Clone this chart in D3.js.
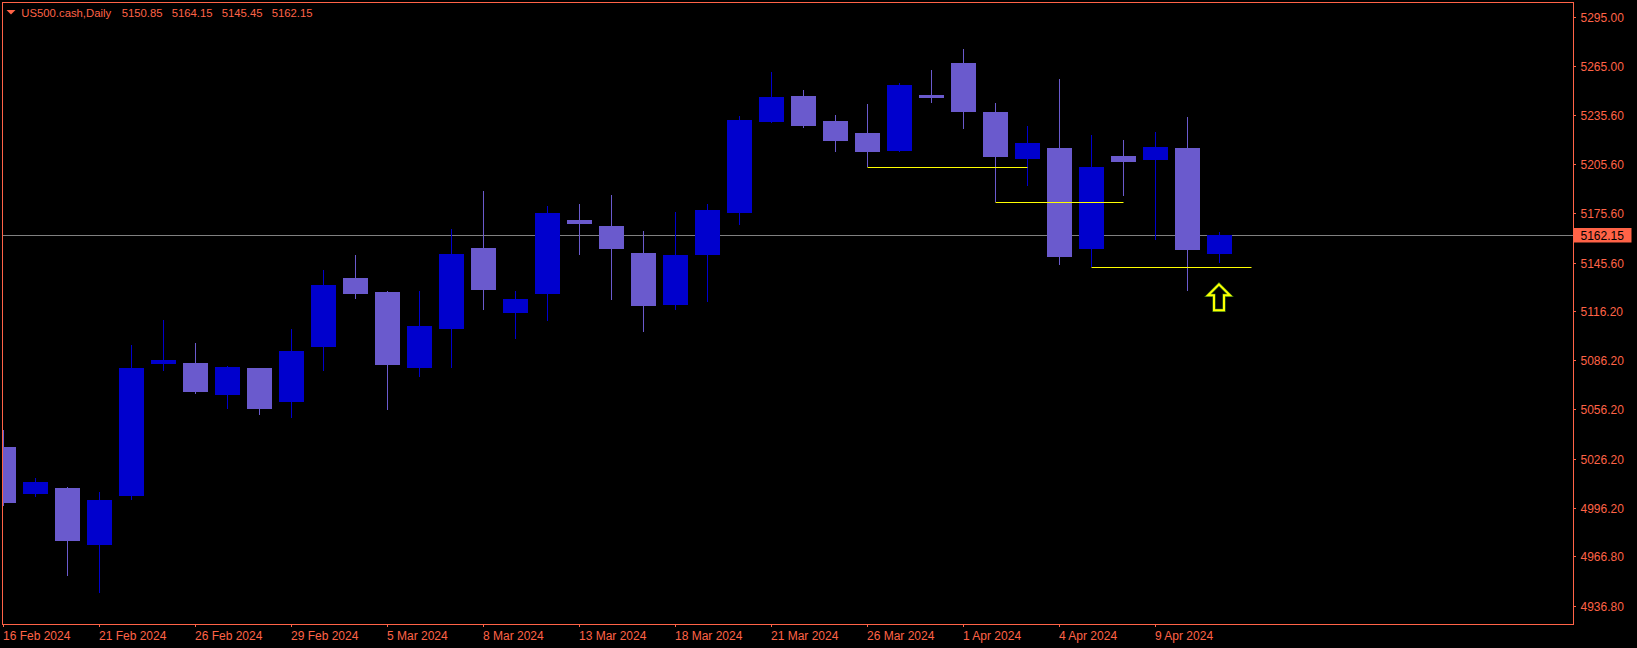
<!DOCTYPE html>
<html><head><meta charset="utf-8">
<script src="https://cdn.jsdelivr.net/npm/d3@7"></script>
<style>html,body{margin:0;padding:0;background:#000;overflow:hidden}</style>
</head><body><svg id="c" width="1637" height="648"></svg>
<script>
// ---------------- DATA ----------------
const symbol = "US500.cash,Daily";
const headerValues = ["5150.85", "5164.15", "5145.45", "5162.15"];
const dates = ["16 Feb 2024","19 Feb 2024","20 Feb 2024","21 Feb 2024","22 Feb 2024","23 Feb 2024",
  "26 Feb 2024","27 Feb 2024","28 Feb 2024","29 Feb 2024","1 Mar 2024","4 Mar 2024","5 Mar 2024",
  "6 Mar 2024","7 Mar 2024","8 Mar 2024","11 Mar 2024","12 Mar 2024","13 Mar 2024","14 Mar 2024",
  "15 Mar 2024","18 Mar 2024","19 Mar 2024","20 Mar 2024","21 Mar 2024","22 Mar 2024","25 Mar 2024",
  "26 Mar 2024","27 Mar 2024","28 Mar 2024","1 Apr 2024","2 Apr 2024","3 Apr 2024","4 Apr 2024",
  "5 Apr 2024","8 Apr 2024","9 Apr 2024","10 Apr 2024","11 Apr 2024"];
const opens  = [5033.3,5004.9,5008.3,4973.6,5003.7,5083.8,5084.4,5064.9,5081.4,5060.7,5094.2,5136.2,5127.6,
  5081.4,5105.1,5154.4,5114.8,5126.4,5171.5,5167.8,5151.4,5119.7,5150.2,5175.7,5231.1,5246.9,5231.7,
  5224.4,5213.5,5247.5,5267.0,5237.2,5208.6,5215.3,5153.8,5210.4,5208.0,5215.3,5150.85];
const highs  = [5043.6,5014.4,5008.9,5005.9,5095.4,5110.6,5096.6,5082.6,5081.6,5105.1,5141.0,5150.2,5128.2,
  5128.2,5166.0,5189.1,5128.2,5180.0,5181.2,5186.7,5164.8,5176.3,5181.2,5234.8,5261.5,5250.5,5235.4,
  5242.0,5254.8,5262.7,5275.5,5242.6,5228.7,5257.3,5223.2,5220.1,5225.0,5234.2,5164.15];
const lows   = [4997.6,5002.9,4954.8,4944.6,5001.2,5079.6,5065.6,5056.4,5052.8,5050.9,5079.6,5123.4,5055.8,
  5075.9,5081.4,5116.7,5099.0,5110.0,5150.2,5122.8,5103.3,5116.7,5121.6,5168.4,5230.6,5227.5,5212.9,
  5204.0,5212.9,5242.6,5226.8,5182.6,5192.2,5144.1,5142.8,5186.1,5159.3,5128.2,5145.45];
const closes = [4999.2,5012.0,4976.1,5001.0,5081.4,5086.2,5066.8,5082.0,5056.4,5091.7,5131.9,5126.4,5083.2,
  5106.9,5150.8,5128.9,5123.4,5175.7,5169.0,5153.8,5119.1,5150.2,5177.5,5232.3,5246.3,5228.7,5219.5,
  5212.9,5253.6,5245.6,5237.2,5209.8,5218.3,5148.9,5203.7,5206.8,5215.9,5153.2,5162.15];
const yTickValues = [5295.00,5265.00,5235.60,5205.60,5175.60,5145.60,5116.20,5086.20,5056.20,5026.20,4996.20,4966.80,4936.80];
const xTickLabels = ["16 Feb 2024","21 Feb 2024","26 Feb 2024","29 Feb 2024","5 Mar 2024","8 Mar 2024",
  "13 Mar 2024","18 Mar 2024","21 Mar 2024","26 Mar 2024","1 Apr 2024","4 Apr 2024","9 Apr 2024"];
const bidPrice = 5162.15;
const levelStarts = ["26 Mar 2024","2 Apr 2024","5 Apr 2024"];
const levelBars   = [5, 4, 5];
const levelPrices = [5204.0, 5182.6, 5142.8];
const arrowDate = "11 Apr 2024";
const arrowPrice = 5132.3;

(function () {
// ---------------- LAYOUT ----------------
const W = 1637, H = 648;
const pLeft = 2.5, pTop = 2.5, pRight = 1573.5, pBottom = 624.5;
const axisColor = "#FF6347";
const bullColor = "#0000CD", bearColor = "#6A5ACD";
const font = "'Liberation Sans', Arial, sans-serif";

const svg = d3.select("#c");
svg.append("rect").attr("width", W).attr("height", H).attr("fill", "#000");

const x = d3.scaleLinear().domain([0, dates.length - 1]).range([3.5, 3.5 + 32 * (dates.length - 1)]);
const y = d3.scaleLinear().domain([4925.6, 5304.15]).range([624, 2]);
const bodyW = 25;

svg.append("clipPath").attr("id", "plot").append("rect")
  .attr("x", 3).attr("y", 3).attr("width", pRight - 3.5).attr("height", pBottom - 3.5);

const plot = svg.append("g").attr("clip-path", "url(#plot)");

const candles = dates.map((d, i) => ({ d, i, o: opens[i], h: highs[i], l: lows[i], c: closes[i] }));

// bid line
const by = Math.round(y(bidPrice)) + 0.5;
plot.append("line").attr("x1", 3).attr("x2", pRight).attr("y1", by).attr("y2", by)
  .attr("stroke", "#808080").attr("stroke-width", 1);

// wicks
plot.selectAll("line.wick").data(candles).join("line").attr("class", "wick")
  .attr("x1", d => x(d.i)).attr("x2", d => x(d.i))
  .attr("y1", d => Math.round(y(d.h))).attr("y2", d => Math.round(y(d.l)))
  .attr("stroke", d => d.c >= d.o ? bullColor : bearColor).attr("stroke-width", 1);

// bodies
plot.selectAll("rect.body").data(candles).join("rect").attr("class", "body")
  .attr("x", d => x(d.i) - bodyW / 2)
  .attr("y", d => Math.round(y(Math.max(d.o, d.c))))
  .attr("width", bodyW)
  .attr("height", d => Math.max(2, Math.round(y(Math.min(d.o, d.c))) - Math.round(y(Math.max(d.o, d.c)))))
  .attr("fill", d => d.c >= d.o ? bullColor : bearColor);

// support levels
levelStarts.forEach((s, k) => {
  const i0 = dates.indexOf(s);
  const ly = Math.round(y(levelPrices[k])) + 0.5;
  plot.append("line").attr("x1", x(i0)).attr("x2", x(i0 + levelBars[k]))
    .attr("y1", ly).attr("y2", ly).attr("stroke", "#FFFF00").attr("stroke-width", 1);
});

// arrow
{
  const ax = x(dates.indexOf(arrowDate)) - 0.5, ay = y(arrowPrice);
  const pts = [[0,0],[11,11],[5,11],[5,26],[-5,26],[-5,11],[-11,11]];
  const p = "M" + pts.map(q => (ax + q[0]) + "," + (ay + q[1])).join("L") + "Z";
  plot.append("path").attr("d", p).attr("fill", "none").attr("stroke", "#3a7a10").attr("stroke-width", 3.2)
    .attr("stroke-linejoin", "miter");
  plot.append("path").attr("d", p).attr("fill", "none").attr("stroke", "#FFFF00").attr("stroke-width", 2)
    .attr("stroke-linejoin", "miter");
}

// frame
svg.append("rect").attr("x", pLeft).attr("y", pTop).attr("width", pRight - pLeft).attr("height", pBottom - pTop)
  .attr("fill", "none").attr("stroke", axisColor).attr("stroke-width", 1);

// y axis ticks and labels
const yAxis = svg.append("g");
yTickValues.forEach(v => {
  const ty = Math.round(y(v)) + 0.5;
  yAxis.append("line").attr("x1", pRight).attr("x2", pRight + 2.5).attr("y1", ty).attr("y2", ty)
    .attr("stroke", axisColor);
  yAxis.append("text").attr("x", 1580.5).attr("y", ty + 4.2).attr("fill", axisColor)
    .attr("font-family", font).attr("font-size", "12px").text(d3.format(".2f")(v));
});

// bid label
svg.append("rect").attr("x", 1574).attr("y", 228).attr("width", 57.5).attr("height", 14.5).attr("fill", axisColor);
svg.append("text").attr("x", 1580.5).attr("y", by + 4.2).attr("fill", "#000")
  .attr("font-family", font).attr("font-size", "12px").text(d3.format(".2f")(bidPrice));

// x axis ticks and labels
const xAxis = svg.append("g");
xTickLabels.forEach(lbl => {
  const i = dates.indexOf(lbl);
  const tx = x(i);
  xAxis.append("line").attr("x1", tx).attr("x2", tx).attr("y1", pBottom).attr("y2", pBottom + 2.5)
    .attr("stroke", axisColor);
  xAxis.append("text").attr("x", tx - 0.5).attr("y", 639.5).attr("fill", axisColor)
    .attr("font-family", font).attr("font-size", "12px").text(lbl);
});

// header
svg.append("path").attr("d", "M6.5,10L15.5,10L11,14.5Z").attr("fill", axisColor);
svg.append("text").attr("x", 21.3).attr("y", 16.7).attr("fill", axisColor)
  .attr("font-family", font).attr("font-size", "11.3px").text(symbol);
headerValues.forEach((v, k) => {
  svg.append("text").attr("x", 121.7 + 50 * k).attr("y", 16.7).attr("fill", axisColor)
    .attr("font-family", font).attr("font-size", "11.3px").text(v);
});
})();
</script>
</body></html>
